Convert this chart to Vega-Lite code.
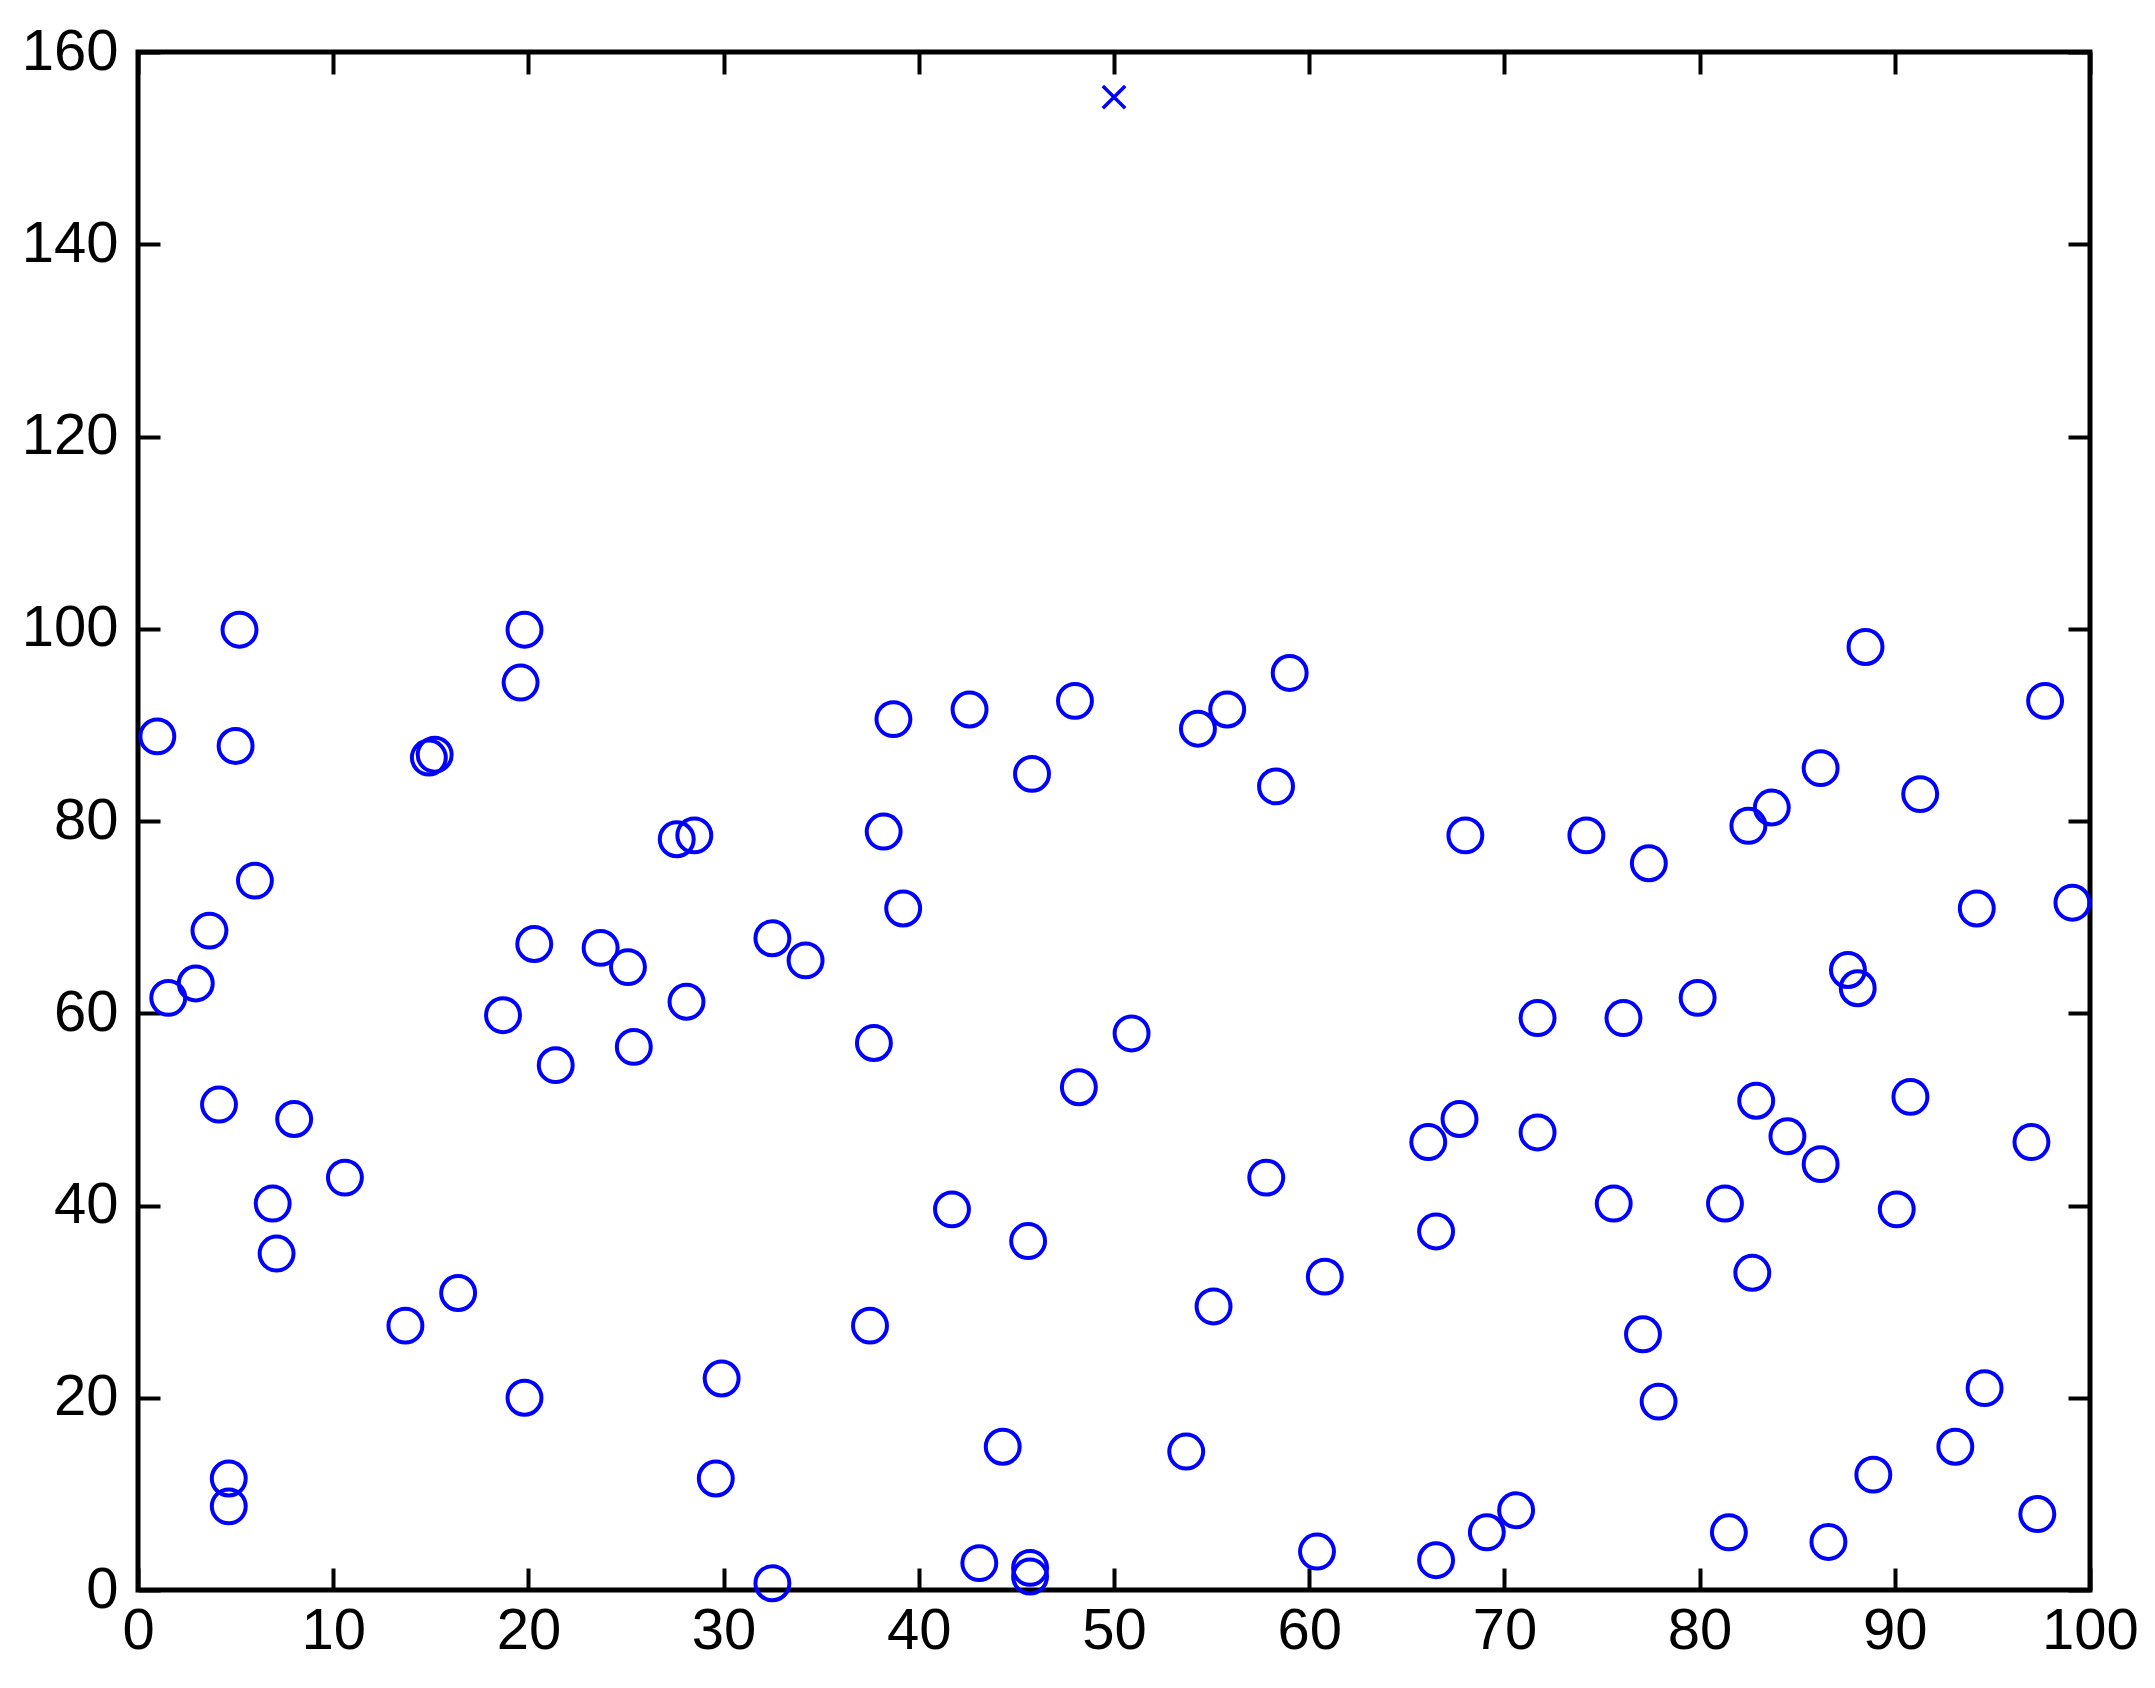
{
  "$schema": "https://vega.github.io/schema/vega-lite/v6.json",
  "autosize": "none",
  "width": 1952,
  "height": 1538,
  "padding": {"left": 138, "top": 52, "right": 65, "bottom": 98},
  "background": "white",
  "config": {
    "view": {"stroke": "black", "strokeWidth": 5},
    "axis": {
      "grid": false,
      "domain": false,
      "ticks": true,
      "tickColor": "black",
      "tickWidth": 4,
      "tickSize": -22,
      "labelFlush": false,
      "labelOverlap": false,
      "labelFont": "Liberation Sans",
      "labelFontSize": 58,
      "labelColor": "black",
      "title": null
    }
  },
  "datasets": {
    "circles": [
      {"x": 0.99, "y": 88.8}, {"x": 1.55, "y": 61.6}, {"x": 2.96, "y": 63.1}, {"x": 3.66, "y": 68.6},
      {"x": 4.15, "y": 50.5}, {"x": 5.2, "y": 99.9}, {"x": 5.0, "y": 87.8}, {"x": 5.99, "y": 73.8},
      {"x": 4.65, "y": 11.6}, {"x": 4.65, "y": 8.7}, {"x": 6.9, "y": 40.2}, {"x": 7.1, "y": 35.0},
      {"x": 8.0, "y": 49.0}, {"x": 10.6, "y": 42.9}, {"x": 13.7, "y": 27.5}, {"x": 14.9, "y": 86.6},
      {"x": 15.2, "y": 86.9}, {"x": 16.4, "y": 30.9}, {"x": 18.7, "y": 59.8}, {"x": 19.6, "y": 94.4},
      {"x": 19.8, "y": 99.9}, {"x": 19.8, "y": 20.0}, {"x": 20.3, "y": 67.2}, {"x": 21.4, "y": 54.6},
      {"x": 23.7, "y": 66.8}, {"x": 25.1, "y": 64.8}, {"x": 25.4, "y": 56.5}, {"x": 27.6, "y": 78.1},
      {"x": 28.5, "y": 78.5}, {"x": 28.1, "y": 61.2}, {"x": 29.9, "y": 22.0}, {"x": 29.6, "y": 11.6},
      {"x": 32.5, "y": 67.8}, {"x": 34.2, "y": 65.5}, {"x": 32.5, "y": 0.7}, {"x": 37.7, "y": 56.9},
      {"x": 37.5, "y": 27.5}, {"x": 38.2, "y": 78.9}, {"x": 38.7, "y": 90.6}, {"x": 39.2, "y": 70.9},
      {"x": 41.7, "y": 39.6}, {"x": 42.6, "y": 91.6}, {"x": 44.3, "y": 14.9}, {"x": 43.1, "y": 2.8},
      {"x": 45.7, "y": 2.3}, {"x": 45.7, "y": 1.4}, {"x": 45.6, "y": 36.3}, {"x": 45.8, "y": 84.9},
      {"x": 48.0, "y": 92.5}, {"x": 48.2, "y": 52.3}, {"x": 50.9, "y": 57.9}, {"x": 53.7, "y": 14.4},
      {"x": 54.3, "y": 89.6}, {"x": 55.8, "y": 91.6}, {"x": 55.1, "y": 29.5}, {"x": 58.3, "y": 83.6},
      {"x": 59.0, "y": 95.4}, {"x": 57.8, "y": 42.9}, {"x": 60.8, "y": 32.6}, {"x": 60.4, "y": 4.0},
      {"x": 66.1, "y": 46.6}, {"x": 66.5, "y": 37.3}, {"x": 66.5, "y": 3.1}, {"x": 67.7, "y": 49.0},
      {"x": 68.0, "y": 78.5}, {"x": 69.1, "y": 6.0}, {"x": 70.6, "y": 8.3}, {"x": 71.7, "y": 59.5},
      {"x": 71.7, "y": 47.6}, {"x": 74.2, "y": 78.5}, {"x": 75.6, "y": 40.2}, {"x": 76.1, "y": 59.5},
      {"x": 77.4, "y": 75.6}, {"x": 77.1, "y": 26.6}, {"x": 77.9, "y": 19.6}, {"x": 79.9, "y": 61.6},
      {"x": 81.3, "y": 40.2}, {"x": 81.5, "y": 6.0}, {"x": 82.5, "y": 79.5}, {"x": 83.7, "y": 81.4},
      {"x": 82.9, "y": 50.9}, {"x": 82.7, "y": 33.0}, {"x": 84.5, "y": 47.2}, {"x": 86.2, "y": 85.5},
      {"x": 86.2, "y": 44.3}, {"x": 86.6, "y": 5.0}, {"x": 87.6, "y": 64.5}, {"x": 88.1, "y": 62.6},
      {"x": 88.5, "y": 98.1}, {"x": 88.9, "y": 12.0}, {"x": 90.1, "y": 39.6}, {"x": 90.8, "y": 51.3},
      {"x": 91.3, "y": 82.8}, {"x": 93.1, "y": 14.9}, {"x": 94.2, "y": 70.9}, {"x": 94.6, "y": 21.0},
      {"x": 97.0, "y": 46.6}, {"x": 97.3, "y": 7.9}, {"x": 97.7, "y": 92.5}, {"x": 99.1, "y": 71.5}
    ],
    "cross": [
      {"x": 50.0, "y": 155.3}
    ]
  },
  "layer": [
    {
      "data": {"name": "circles"},
      "mark": {"type": "point", "shape": "circle", "filled": false, "stroke": "#0000FF", "strokeWidth": 4, "size": 1150, "opacity": 1},
      "encoding": {
        "x": {"field": "x", "type": "quantitative", "scale": {"domain": [0, 100], "nice": false, "zero": false},
              "axis": {"orient": "bottom", "values": [0, 10, 20, 30, 40, 50, 60, 70, 80, 90, 100], "labelPadding": 34}},
        "y": {"field": "y", "type": "quantitative", "scale": {"domain": [0, 160], "nice": false, "zero": false},
              "axis": {"orient": "left", "values": [0, 20, 40, 60, 80, 100, 120, 140, 160], "labelPadding": 42}}
      }
    },
    {
      "data": {"name": "cross"},
      "mark": {"type": "point", "shape": "M-1,-1L1,1M1,-1L-1,1", "filled": false, "stroke": "#0000FF", "strokeWidth": 3.5, "size": 500, "opacity": 1},
      "encoding": {
        "x": {"field": "x", "type": "quantitative",
              "axis": {"orient": "top", "values": [0, 10, 20, 30, 40, 50, 60, 70, 80, 90, 100], "labels": false}},
        "y": {"field": "y", "type": "quantitative",
              "axis": {"orient": "right", "values": [0, 20, 40, 60, 80, 100, 120, 140, 160], "labels": false}}
      }
    }
  ],
  "resolve": {"axis": {"x": "independent", "y": "independent"}}
}
